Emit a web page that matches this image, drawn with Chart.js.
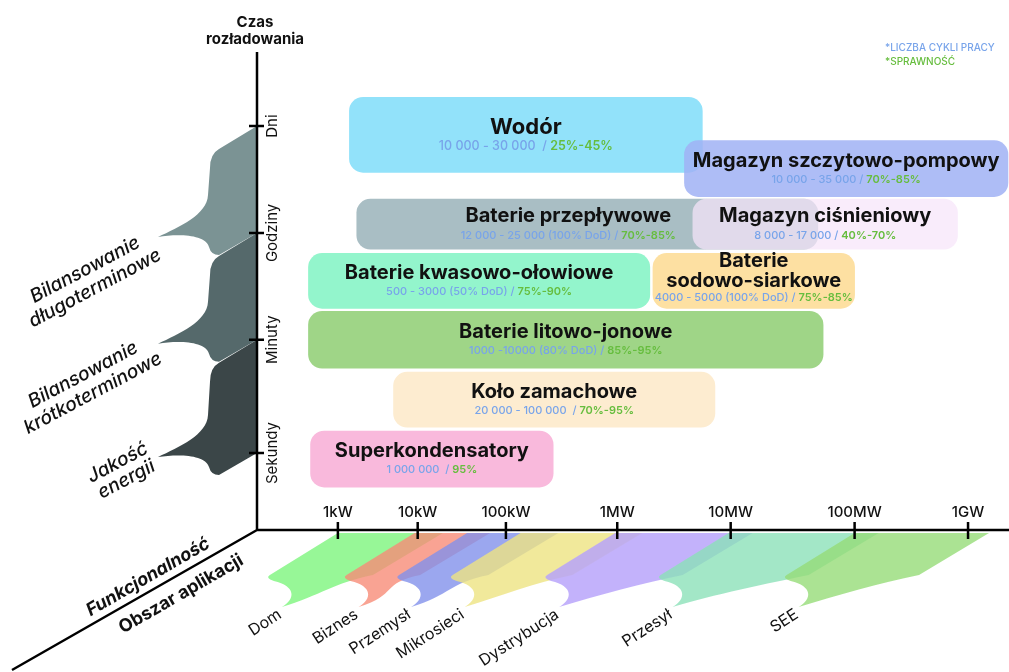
<!DOCTYPE html>
<html>
<head>
<meta charset="utf-8">
<script src="https://cdn.jsdelivr.net/npm/chart.js@4.4.1/dist/chart.umd.min.js"></script>
<style>
  html, body { margin: 0; background: #fff; }
  #wrap { width: 1009px; height: 672px; position: relative; }
</style>
</head>
<body>
<div id="wrap"><canvas id="chart"></canvas></div>
<script>
// power axis in decades: 1kW = 0 ... 1GW = 6 (spacing, it is not even)
const powerLabels = ['1kW', '10kW', '100kW', '1MW', '10MW', '100MW', '1GW'];
const powerTicks = [0, 0.76, 1.6, 2.66, 3.74, 4.92, 6];

// discharge time axis
const timeLabels = ['Sekundy', 'Minuty', 'Godziny', 'Dni'];
const timeTicks = [0, 1.04, 2.02, 3];

// storage technologies (later ones drawn on top)
const storageNames = ['Wodór', 'Magazyn szczytowo-pompowy', 'Baterie przepływowe', 'Magazyn ciśnieniowy',
  'Baterie kwasowo-ołowiowe', 'Baterie\nsodowo-siarkowe', 'Baterie litowo-jonowe', 'Koło zamachowe', 'Superkondensatory'];
const powerFrom = [0.11, 3.30, 0.18, 3.38, -0.28, 3.00, -0.28, 0.53, -0.26];
const powerTo = [3.47, 6.38, 4.57, 5.90, 2.97, 4.92, 4.62, 3.59, 2.05];
const timeLevel = [2.92, 2.61, 2.10, 2.10, 1.58, 1.58, 1.04, 0.49, -0.055];
const cycles = ['10 000 - 30 000  / ', '10 000 - 35 000 / ', '12 000 - 25 000 (100% DoD) / ', '8 000 - 17 000 / ',
  '500 - 3000 (50% DoD) / ', '4000 - 5000 (100% DoD) / ', '1000 -10000 (80% DoD) / ', '20 000 - 100 000  / ', '1 000 000  / '];
const efficiency = ['25%-45%', '70%-85%', '70%-85%', '40%-70%', '75%-90%', '75%-85%', '85%-95%', '70%-95%', '95%'];

// application areas along the power axis
const areaNames = ['Dom', 'Biznes', 'Przemysł', 'Mikrosieci', 'Dystrybucja', 'Przesył', 'SEE'];
const areaFrom = [0, 0.73, 1.23, 1.74, 2.64, 3.72, 4.92];
const areaTo = [1.0, 1.45, 2.1, 2.9, 3.95, 5.15, 6.2];

// functions along the time axis (index into timeTicks, top -> bottom)
const functionNames = ['Bilansowanie\ndługoterminowe', 'Bilansowanie\nkrótkoterminowe', 'Jakość\nenergii'];
const functionSpan = [[3, 2], [2, 1], [1, 0]];

const FONT = 'Inter, "Noto Sans", sans-serif';
const barColors = ['#92e2fa', 'rgba(160,178,245,0.85)', '#a9bec4', 'rgba(246,228,249,0.72)',
  '#93f5cc', '#fde0a2', '#9fd587', '#fdecd0', '#f9b9dc'];
const barHeights = [75, 56, 50, 50, 55, 55, 57, 55, 56];
const titleSizes = [22, 20, 20, 20, 20, 20, 20, 20, 20];
const areaColors = ['rgba(125,245,125,0.8)', 'rgba(248,140,120,0.8)', 'rgba(130,145,235,0.8)', 'rgba(238,228,130,0.8)',
  'rgba(185,165,250,0.85)', 'rgba(140,225,185,0.8)', 'rgba(150,220,120,0.8)'];
const flagColors = ['#7b9394', '#55696b', '#3b4648'];
const BLUE = '#78a4ea', GREEN = '#66bd3e';

function rotText(ctx, lines, x, y, deg, font, color, lh, align) {
  ctx.save();
  ctx.translate(x, y);
  ctx.rotate(deg * Math.PI / 180);
  ctx.font = font;
  ctx.fillStyle = color;
  ctx.textAlign = align || 'center';
  ctx.textBaseline = 'middle';
  const off = (lines.length - 1) * lh / 2;
  lines.forEach((l, i) => ctx.fillText(l, 0, i * lh - off));
  ctx.restore();
}

function flag(ctx, x0, t, b, color) {
  ctx.beginPath();
  ctx.moveTo(x0, t);
  ctx.lineTo(x0 - 38, t + 23);
  ctx.quadraticCurveTo(x0 - 47, t + 28, x0 - 47, t + 42);
  ctx.lineTo(x0 - 49, b - 38);
  ctx.bezierCurveTo(x0 - 50, b - 18, x0 - 78, b - 6, x0 - 99, b + 4);
  ctx.bezierCurveTo(x0 - 80, b + 1, x0 - 52, b + 1, x0 - 48, b + 14);
  ctx.quadraticCurveTo(x0 - 46, b + 22, x0 - 38, b + 22);
  ctx.lineTo(x0, b);
  ctx.closePath();
  ctx.fillStyle = color;
  ctx.fill();
}

function ribbon(ctx, xa, xb, y0, color) {
  const C = [xa - 70, y0 + 45], D = [xb - 70, y0 + 42], T = [C[0] + 14, C[1] + 29];
  ctx.beginPath();
  ctx.moveTo(xa, y0);
  ctx.lineTo(xb, y0);
  ctx.lineTo(D[0], D[1]);
  ctx.bezierCurveTo(D[0] - 40, D[1] + 8, T[0] + 40, T[1] - 12, T[0], T[1]);
  ctx.bezierCurveTo(T[0] + 14, T[1] - 8, T[0] + 14, C[1] + 8, C[0] + 6, C[1] + 3);
  ctx.quadraticCurveTo(C[0] - 3, C[1], C[0] + 2, C[1] - 3);
  ctx.closePath();
  ctx.fillStyle = color;
  ctx.fill();
  return T;
}

const decor = {
  id: 'decor',
  beforeDatasetsDraw(chart) {
    const {ctx, chartArea: a, scales: {x, y}} = chart;
    const x0 = a.left, yb = a.bottom;
    ctx.save();

    // application area ribbons
    areaNames.forEach((name, i) => {
      const T = ribbon(ctx, x.getPixelForValue(areaFrom[i]), x.getPixelForValue(areaTo[i]), yb + 3, areaColors[i]);
      rotText(ctx, [name], T[0] - 2, T[1] + 6, -33, '400 16px ' + FONT, '#111', 0, 'right');
    });

    // function flags
    functionSpan.forEach((s, i) => {
      flag(ctx, x0, y.getPixelForValue(timeTicks[s[0]]), y.getPixelForValue(timeTicks[s[1]]), flagColors[i]);
    });
    rotText(ctx, functionNames[0].split('\n'), 90, 279, -28, 'italic 500 19px ' + FONT, '#111', 21);
    rotText(ctx, functionNames[1].split('\n'), 88, 384, -28, 'italic 500 19px ' + FONT, '#111', 21);
    rotText(ctx, functionNames[2].split('\n'), 122, 471, -28, 'italic 500 19px ' + FONT, '#111', 19);

    // axes
    ctx.strokeStyle = '#000';
    ctx.lineWidth = 2.5;
    ctx.lineCap = 'butt';
    ctx.beginPath();
    ctx.moveTo(x0, a.top);
    ctx.lineTo(x0, yb);
    ctx.lineTo(a.right, yb);
    ctx.moveTo(x0, yb);
    ctx.lineTo(12, 670);
    ctx.stroke();

    ctx.beginPath();
    timeTicks.forEach(v => {
      const py = y.getPixelForValue(v);
      ctx.moveTo(x0 - 8, py);
      ctx.lineTo(x0 + 7, py);
    });
    powerTicks.forEach(v => {
      const px = x.getPixelForValue(v);
      ctx.moveTo(px, yb - 8);
      ctx.lineTo(px, yb + 9);
    });
    ctx.stroke();

    timeLabels.forEach((l, i) => {
      rotText(ctx, [l], x0 + 15, y.getPixelForValue(timeTicks[i]), -90, '400 15px ' + FONT, '#111', 0);
    });
    ctx.font = '500 15px ' + FONT;
    ctx.fillStyle = '#111';
    ctx.textAlign = 'center';
    ctx.textBaseline = 'middle';
    powerLabels.forEach((l, i) => ctx.fillText(l, x.getPixelForValue(powerTicks[i]), yb - 18));

    ctx.font = '700 15px ' + FONT;
    ctx.fillText('Czas', x0 - 2, 22);
    ctx.fillText('rozładowania', x0 - 2, 39);

    rotText(ctx, ['Funkcjonalność'], 148, 577, -30, 'italic 700 18px ' + FONT, '#111', 0);
    rotText(ctx, ['Obszar aplikacji'], 181, 594, -30, '700 18px ' + FONT, '#111', 0);

    // legend
    ctx.textAlign = 'left';
    ctx.font = '500 10px ' + FONT;
    ctx.fillStyle = BLUE;
    ctx.fillText('*LICZBA CYKLI PRACY', 885, 48);
    ctx.fillStyle = GREEN;
    ctx.fillText('*SPRAWNOŚĆ', 885, 62);
    ctx.restore();
  },
  afterDatasetsDraw(chart) {
    const ctx = chart.ctx;
    ctx.save();
    ctx.textBaseline = 'middle';
    storageNames.forEach((name, i) => {
      const el = chart.getDatasetMeta(i).data[0];
      const p = el.getProps(['x', 'y', 'base'], true);
      let cx = (p.x + p.base) / 2;
      if (i === 2) cx -= 19; // the right end sits under the next box
      const lines = name.split('\n');
      ctx.fillStyle = '#111';
      ctx.textAlign = 'center';
      ctx.font = '700 ' + titleSizes[i] + 'px ' + FONT;
      let subY;
      if (lines.length > 1) {
        ctx.fillText(lines[0], cx, p.y - 20);
        ctx.fillText(lines[1], cx, p.y);
        subY = p.y + 17;
      } else {
        ctx.fillText(name, cx, p.y - (i === 0 ? 7 : 8));
        subY = p.y + 11;
      }
      const fs = i === 0 ? 12.5 : 11;
      ctx.font = '500 ' + fs + 'px ' + FONT;
      const w1 = ctx.measureText(cycles[i]).width;
      ctx.font = '600 ' + fs + 'px ' + FONT;
      const w2 = ctx.measureText(efficiency[i]).width;
      const sx = cx - (w1 + w2) / 2;
      ctx.textAlign = 'left';
      ctx.font = '500 ' + fs + 'px ' + FONT;
      ctx.fillStyle = BLUE;
      ctx.fillText(cycles[i], sx, subY);
      ctx.fillStyle = GREEN;
      ctx.font = '600 ' + fs + 'px ' + FONT;
      ctx.fillText(efficiency[i], sx + w1, subY);
    });
    ctx.restore();
  }
};

new Chart(document.getElementById('chart'), {
  type: 'bar',
  data: {
    datasets: storageNames.map((name, i) => ({
      label: name,
      data: [{x: [powerFrom[i], powerTo[i]], y: timeLevel[i]}],
      backgroundColor: barColors[i],
      borderWidth: 0,
      borderRadius: 14,
      borderSkipped: false,
      barThickness: barHeights[i],
      grouped: false,
      order: storageNames.length - i,
    })),
  },
  options: {
    indexAxis: 'y',
    responsive: true,
    maintainAspectRatio: false,
    animation: false,
    layout: { padding: { left: 257, right: 0, top: 52, bottom: 142 } },
    plugins: { legend: { display: false }, tooltip: { enabled: false } },
    scales: {
      x: { type: 'linear', min: -0.77, max: 6.39, offset: false, display: false },
      y: { type: 'linear', min: -0.706, max: 3.68, offset: false, display: false },
    },
  },
  plugins: [decor],
});
</script>
</body>
</html>
